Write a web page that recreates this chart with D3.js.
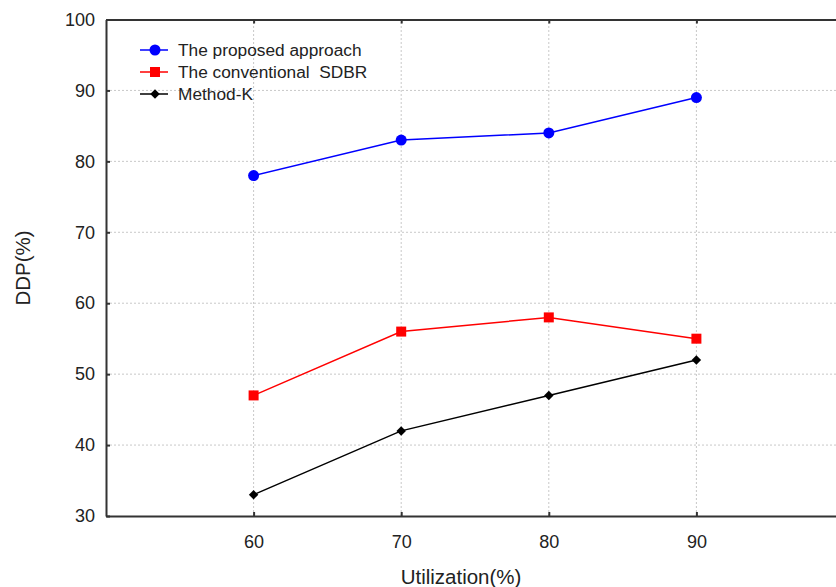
<!DOCTYPE html>
<html>
<head>
<meta charset="utf-8">
<script src="https://cdn.jsdelivr.net/npm/d3@7"></script>
<style>
  html, body { margin: 0; padding: 0; background: #fff; }
  svg { display: block; font-family: "Liberation Sans", Arial, sans-serif; }
</style>
</head>
<body>
<svg id="chart" width="836" height="587"></svg>
<script>
// Utilization levels (x) and DDP results (%) for each method
const utilization = [60, 70, 80, 90];
const proposed = [78, 83, 84, 89];
const conventionalSDBR = [47, 56, 58, 55];
const methodK = [33, 42, 47, 52];

const xTicks = [60, 70, 80, 90];
const yTicks = [30, 40, 50, 60, 70, 80, 90, 100];

const seriesNames = ["The proposed approach", "The conventional  SDBR", "Method-K"];
const seriesColors = ["#0000ff", "#ff0000", "#000000"];
const seriesSymbols = [d3.symbolCircle, d3.symbolSquare, d3.symbolSquare];
const seriesSizes = [95, 100, 45];
const seriesRotate = [0, 0, 45];

const svg = d3.select("#chart");
const margin = { left: 106, top: 19.5, bottom: 516 };
const x = d3.scaleLinear().domain([50, 100]).range([margin.left, 844]);
const y = d3.scaleLinear().domain([30, 100]).range([margin.bottom, margin.top]);

// Grid lines
const grid = svg.append("g");
grid.selectAll("line.gx").data(xTicks).join("line")
  .attr("x1", d => x(d)).attr("x2", d => x(d))
  .attr("y1", y(30)).attr("y2", y(100))
  .attr("stroke", "#c8c8c8").attr("stroke-width", 1).attr("stroke-dasharray", "2,2");
grid.selectAll("line.gy").data(yTicks.filter(d => d > 30 && d < 100)).join("line")
  .attr("x1", x(50)).attr("x2", x(100))
  .attr("y1", d => y(d)).attr("y2", d => y(d))
  .attr("stroke", "#c8c8c8").attr("stroke-width", 1).attr("stroke-dasharray", "2,2");

// Axes with inward ticks
const axisStyle = g => {
  g.select(".domain").attr("stroke", "#333").attr("stroke-width", 2);
  g.selectAll(".tick line").attr("stroke", "#333").attr("stroke-width", 2);
  g.selectAll("text").attr("font-size", 18).attr("fill", "#222")
    .attr("font-family", "'Liberation Sans', Arial, sans-serif");
};

svg.append("g").attr("transform", `translate(0,${y(30)})`)
  .call(d3.axisBottom(x).tickValues(xTicks).tickSize(-4).tickSizeOuter(0).tickPadding(19))
  .call(axisStyle);
svg.append("g").attr("transform", `translate(0,${y(100)})`)
  .call(d3.axisTop(x).tickValues(xTicks).tickSize(-4).tickSizeOuter(0).tickFormat(""))
  .call(axisStyle);
svg.append("g").attr("transform", `translate(${x(50)},0)`)
  .call(d3.axisLeft(y).tickValues(yTicks).tickSize(-4).tickSizeOuter(0).tickPadding(11))
  .call(axisStyle);

// Series
const series = [proposed, conventionalSDBR, methodK];
const line = d3.line().x((d, i) => x(utilization[i])).y(d => y(d));
series.forEach((vals, s) => {
  svg.append("path").datum(vals)
    .attr("d", line).attr("fill", "none")
    .attr("stroke", seriesColors[s]).attr("stroke-width", 1.5);
  svg.append("g").selectAll("path").data(vals).join("path")
    .attr("transform", (d, i) => `translate(${x(utilization[i])},${y(d)}) rotate(${seriesRotate[s]})`)
    .attr("d", d3.symbol().type(seriesSymbols[s]).size(seriesSizes[s]))
    .attr("fill", seriesColors[s]);
});

// Legend
const legend = svg.append("g");
seriesNames.forEach((name, s) => {
  const ly = 50 + s * 22;
  legend.append("line").attr("x1", 140).attr("x2", 168).attr("y1", ly).attr("y2", ly)
    .attr("stroke", seriesColors[s]).attr("stroke-width", 1.5);
  legend.append("path").attr("transform", `translate(155,${ly}) rotate(${seriesRotate[s]})`)
    .attr("d", d3.symbol().type(seriesSymbols[s]).size(seriesSizes[s]))
    .attr("fill", seriesColors[s]);
  legend.append("text").attr("x", 178).attr("y", ly + 6)
    .attr("font-size", 17.3).attr("fill", "#222").attr("xml:space", "preserve")
    .style("white-space", "pre").text(name);
});

// Axis titles
svg.append("text").attr("x", 461).attr("y", 584).attr("text-anchor", "middle")
  .attr("font-size", 20.5).attr("fill", "#222").text("Utilization(%)");
svg.append("text").attr("transform", "translate(30,268) rotate(-90)")
  .attr("text-anchor", "middle").attr("font-size", 20.5).attr("fill", "#222").text("DDP(%)");
</script>
</body>
</html>
